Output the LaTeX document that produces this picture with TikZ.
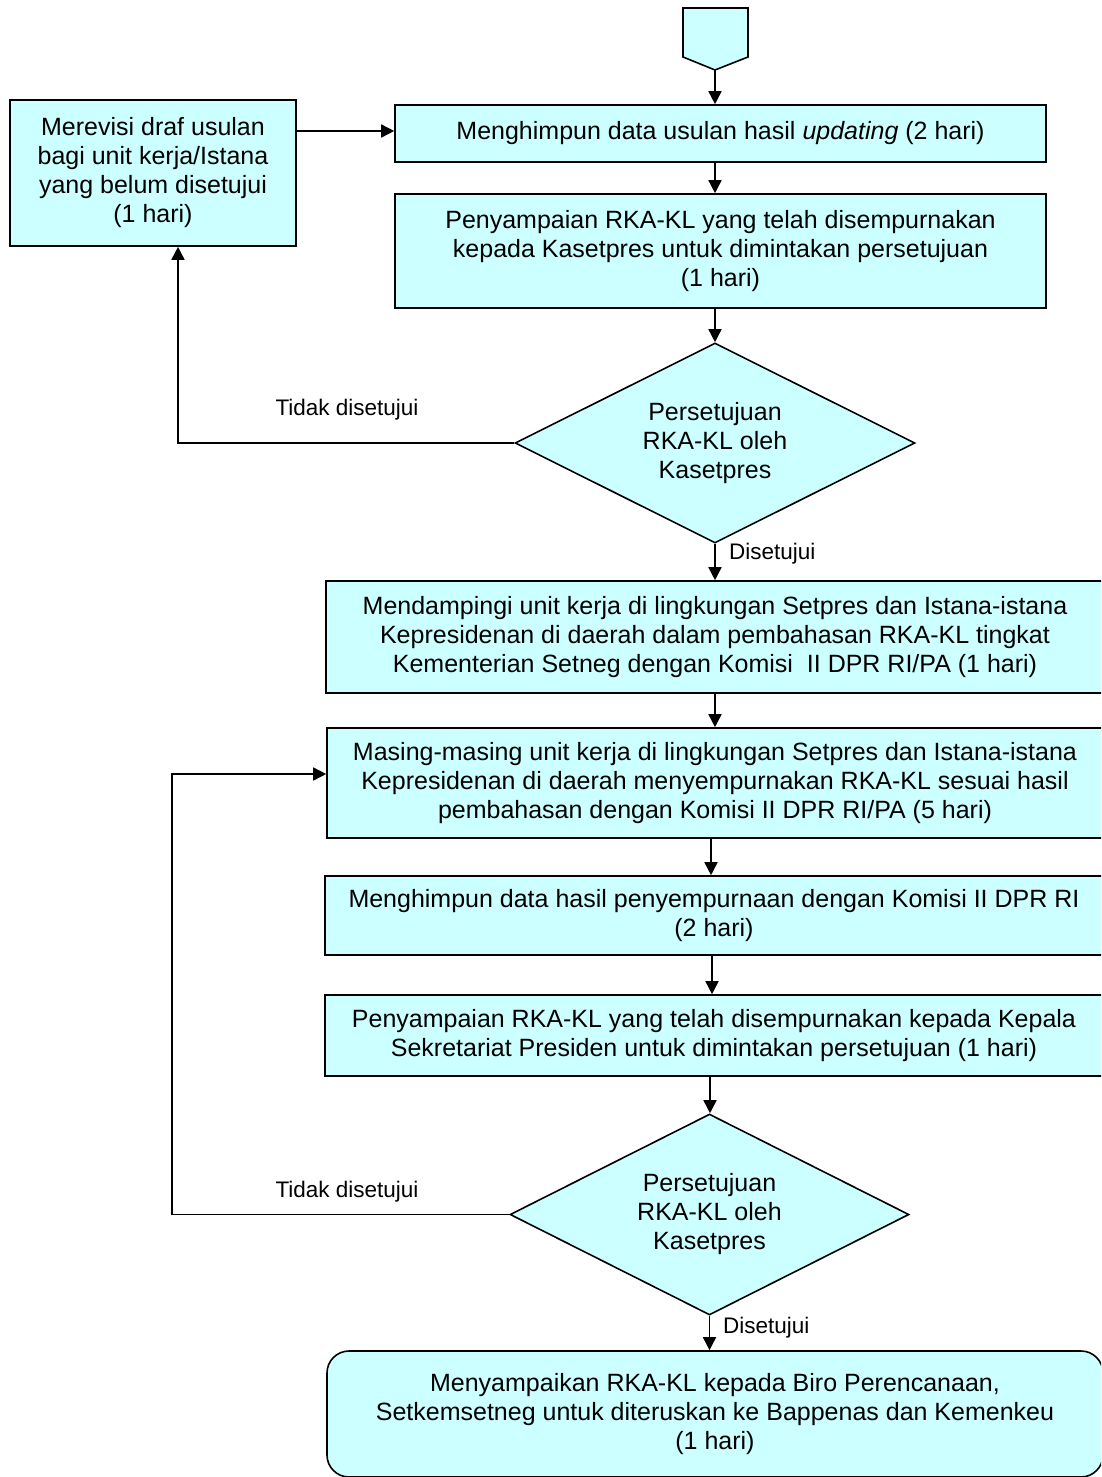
\documentclass[tikz,border=0pt]{standalone}
\usepackage{fontspec}
\setmainfont{Liberation Sans}
\usetikzlibrary{shapes.geometric,arrows.meta}
\definecolor{boxfill}{HTML}{CCFFFF}
\begin{document}
\begin{tikzpicture}[x=1pt,y=-1pt,
  box/.style={draw=black,fill=boxfill,line width=1.6pt,inner sep=0pt,align=center,
    font=\fontsize{25}{29}\selectfont},
  dec/.style={draw=black,fill=boxfill,line width=1.6pt,diamond,shape aspect=2,inner sep=0pt,align=center,
    minimum width=400pt,minimum height=200pt,font=\fontsize{25}{29}\selectfont},
  arr/.style={line width=1.6pt,-{Triangle[length=13pt,width=13pt]}},
  lbl/.style={font=\fontsize{22.5}{26}\selectfont,inner sep=0pt}]
\useasboundingbox (0,0) rectangle (1101,1477);
\clip (0,0) rectangle (1101,1477);
% off-page connector
\draw[fill=boxfill,line width=1.6pt] (683,8) -- (748,8) -- (748,57) -- (715,70) -- (683,57) -- cycle;
\coordinate (startpt) at (715,70);
\node[box,minimum width=651pt,minimum height=57pt] (b1) at (720.5,133.5)
  {Menghimpun data usulan hasil \textit{updating} (2 hari)};
\node[box,minimum width=286pt,minimum height=146pt] (rev) at (153,173)
  {Merevisi draf usulan\\bagi unit kerja/Istana\\yang belum disetujui\\(1 hari)};
\node[box,minimum width=651pt,minimum height=114pt] (b2) at (720.5,251)
  {Penyampaian RKA-KL yang telah disempurnakan\\kepada Kasetpres untuk dimintakan persetujuan\\(1 hari)};
\node[dec] (d1) at (715,443) {Persetujuan\\RKA-KL oleh\\Kasetpres};
\node[box,minimum width=778pt,minimum height=112pt] (b3) at (715,637)
  {Mendampingi unit kerja di lingkungan Setpres dan Istana-istana\\Kepresidenan di daerah dalam pembahasan RKA-KL tingkat\\Kementerian Setneg dengan Komisi\ \ II DPR RI/PA (1 hari)};
\node[box,minimum width=776pt,minimum height=110pt] (b4) at (715,783)
  {Masing-masing unit kerja di lingkungan Setpres dan Istana-istana\\Kepresidenan di daerah menyempurnakan RKA-KL sesuai hasil\\pembahasan dengan Komisi II DPR RI/PA (5 hari)};
\node[box,minimum width=778pt,minimum height=79pt] (b5) at (714,915.5)
  {Menghimpun data hasil penyempurnaan dengan Komisi II DPR RI\\(2 hari)};
\node[box,minimum width=778pt,minimum height=81pt] (b6) at (714,1035.5)
  {Penyampaian RKA-KL yang telah disempurnakan kepada Kepala\\Sekretariat Presiden untuk dimintakan persetujuan (1 hari)};
\node[dec,minimum width=399pt,minimum height=201pt] (d2) at (709.5,1214.5) {Persetujuan\\RKA-KL oleh\\Kasetpres};
\node[box,rounded corners=22pt,minimum width=776pt,minimum height=126pt] (b7) at (715,1414)
  {Menyampaikan RKA-KL kepada Biro Perencanaan,\\Setkemsetneg untuk diteruskan ke Bappenas dan Kemenkeu\\(1 hari)};
% labels
\node[lbl] (t1) at (347,410) {Tidak disetujui};
\node[lbl,anchor=west] (s1) at (729,554) {Disetujui};
\node[lbl] (t2) at (347,1192) {Tidak disetujui};
\node[lbl,anchor=west] (s2) at (723,1328) {Disetujui};
% connectors
\draw[arr] (startpt) -- (startpt |- b1.north);
\draw[arr] (rev.east |- 0,131) -- (b1.west |- 0,131);
\draw[arr] (b1.south -| startpt) -- (b2.north -| startpt);
\draw[arr] (b2.south -| d1.north) -- (d1.north);
\draw[arr] (d1.west) -- (178,443) -- (rev.south -| 178,0);
\draw[arr] (d1.south) -- (b3.north -| d1.south);
\draw[arr] (b3.south) -- (b4.north);
\draw[arr] (d2.west) -- (172,1214.5) -- (172,774) -- (b4.west |- 0,774);
\draw[arr] (b4.south -| 711,0) -- (b5.north -| 711,0);
\draw[arr] (b5.south -| 712,0) -- (b6.north -| 712,0);
\draw[arr] (b6.south -| 710,0) -- (d2.north -| 710,0);
\draw[arr] (d2.south) -- (b7.north -| d2.south);
\end{tikzpicture}
\end{document}
